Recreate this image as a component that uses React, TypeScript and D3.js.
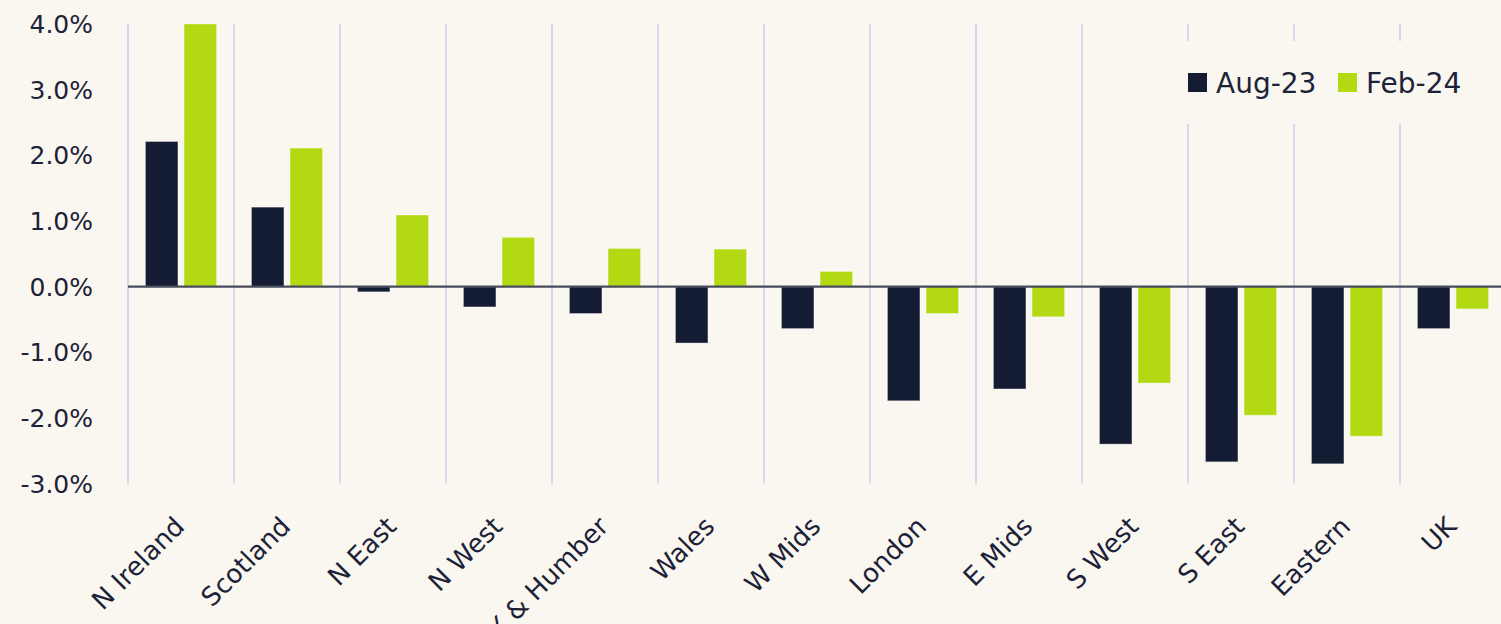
import React from "react";
import * as d3 from "d3";

const categories = ["N Ireland", "Scotland", "N East", "N West", "Y & Humber", "Wales", "W Mids", "London", "E Mids", "S West", "S East", "Eastern", "UK"];
const seriesNames = ["Aug-23", "Feb-24"];
const aug23 = [2.21, 1.21, -0.08, -0.31, -0.41, -0.86, -0.64, -1.74, -1.56, -2.4, -2.67, -2.7, -0.64];
const feb24 = [4.0, 2.11, 1.09, 0.75, 0.58, 0.57, 0.23, -0.41, -0.46, -1.47, -1.96, -2.28, -0.34];
const yTicks = [4, 3, 2, 1, 0, -1, -2, -3];

const W = 1501;
const H = 624;
const BG = "#FAF7F0";
const DARK = "#141C33";
const GREEN = "#B2D912";
const TEXT = "#1C2237";
const GRID = "#D3DAEE";
const FONT = "'DejaVu Sans', sans-serif";

export default function App() {
  const x = d3.scaleBand<string>().domain(categories).range([128, 1506]).padding(0);
  const inner = d3.scaleBand<string>().domain(seriesNames).range([0, x.bandwidth()]).paddingInner(0.158).paddingOuter(0.452);
  const y = d3.scaleLinear().domain([-3, 4]).range([483.5, 24]);
  const colors = [DARK, GREEN];
  const data = [aug23, feb24];
  const y0 = y(0);

  return (
    <svg width={W} height={H} style={{ position: "absolute", left: 0, top: 0, display: "block" }} fontFamily={FONT}>
      <rect x={0} y={0} width={W} height={H} fill={BG} />
      {categories.map((c) => (
        <line key={"g" + c} x1={x(c)!} x2={x(c)!} y1={y(4)} y2={y(-3)} stroke={GRID} strokeWidth={2} />
      ))}
      {yTicks.map((t) => (
        <text key={"t" + t} x={93} y={y(t)} dy="0.36em" textAnchor="end" fontSize={25} fill={TEXT}>
          {t.toFixed(1) + "%"}
        </text>
      ))}
      {data.map((vals, si) =>
        vals.map((v, i) => {
          const bx = x(categories[i])! + inner(seriesNames[si])!;
          const top = Math.min(y(v), y0);
          const h = Math.abs(y(v) - y0);
          return (
            <rect key={si + "-" + i} x={bx} y={top} width={inner.bandwidth()} height={h} fill={colors[si]} stroke="#ffffff" strokeOpacity={0.35} strokeWidth={1} />
          );
        })
      )}
      <line x1={128} x2={W} y1={y0} y2={y0} stroke="#474C5C" strokeWidth={2.2} />
      {categories.map((c) => (
        <text key={"l" + c} transform={`translate(${x(c)! + x.bandwidth() / 2 + 5},528) rotate(-45)`} textAnchor="end" fontSize={26} fill={TEXT}>
          {c}
        </text>
      ))}
      <rect x={1150} y={41} width={351} height={83} fill={BG} />
      {seriesNames.map((s, i) => {
        const lx = [1188, 1338][i];
        return (
          <g key={"lg" + s}>
            <rect x={lx} y={73} width={19} height={19} fill={colors[i]} />
            <text x={lx + 28} y={82.5} dy="0.36em" fontSize={28} fill={TEXT}>{s}</text>
          </g>
        );
      })}
    </svg>
  );
}
